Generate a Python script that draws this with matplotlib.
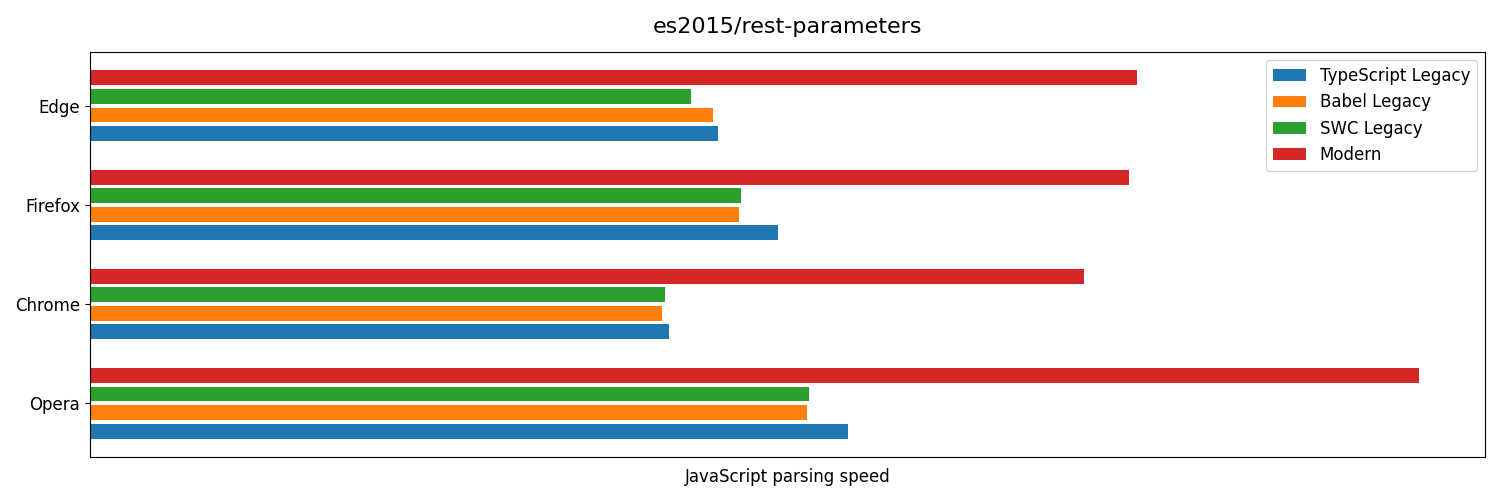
import matplotlib
matplotlib.use("Agg")
import matplotlib.pyplot as plt
import numpy as np

browsers = ["Opera", "Chrome", "Firefox", "Edge"]
series = ["TypeScript Legacy", "Babel Legacy", "SWC Legacy", "Modern"]
typescript_legacy = [758, 579, 688, 628]
babel_legacy = [717, 572, 649, 623]
swc_legacy = [719, 575, 651, 601]
modern = [1329, 994, 1039, 1047]
colors = ["#1f77b4", "#ff7f0e", "#2ca02c", "#d62728"]

values = [typescript_legacy, babel_legacy, swc_legacy, modern]

fig = plt.figure(figsize=(15, 5), dpi=100)
ax = fig.add_axes([0.06, 0.086, 0.93, 0.81])
y = np.arange(len(browsers))
step = 0.187
h = 0.15
for i, (name, vals) in enumerate(zip(series, values)):
    ax.barh(y + (i - 1.5) * step, vals, height=h, color=colors[i], label=name)

ax.set_yticks(y)
ax.set_yticklabels(browsers, fontsize=12)
ax.set_xticks([])
ax.set_xlabel("JavaScript parsing speed", fontsize=12, labelpad=8)
ax.set_title("es2015/rest-parameters", fontsize=16, pad=14)
ax.legend(loc="upper right", fontsize=12)
fig.savefig("out.png", dpi=100)
